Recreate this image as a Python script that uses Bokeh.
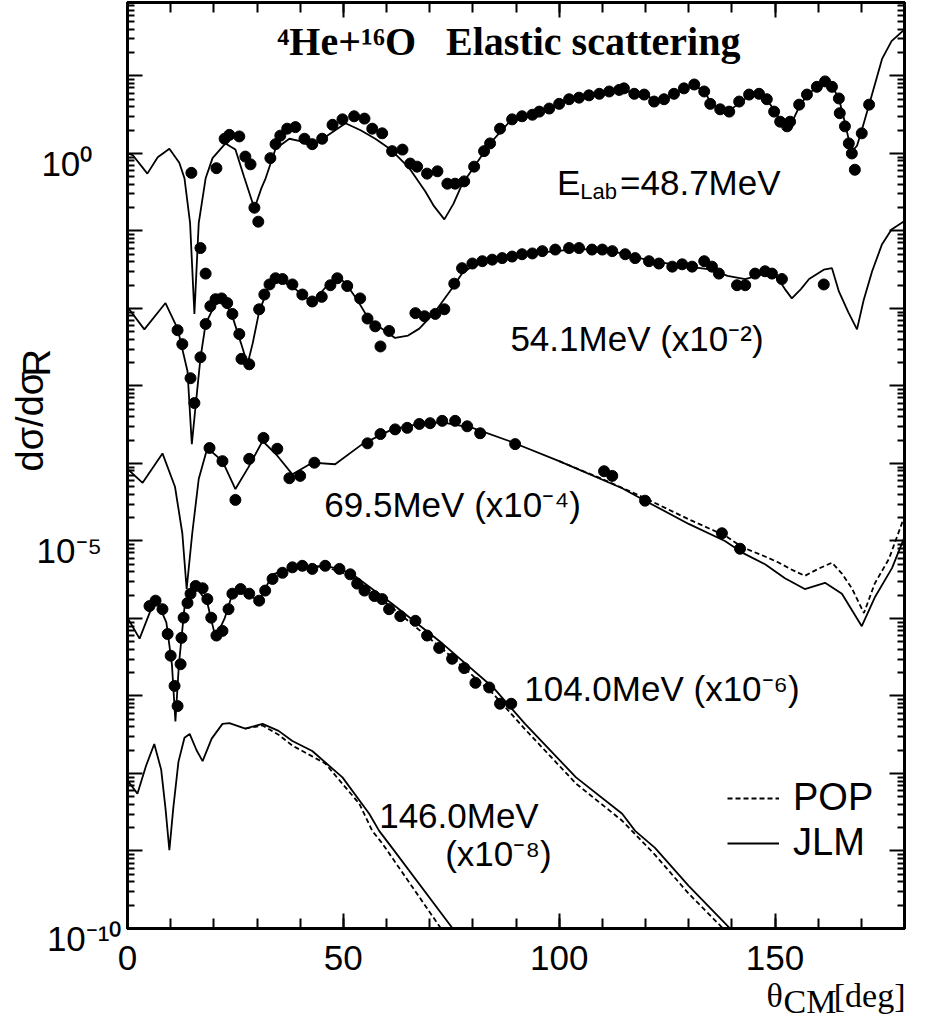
import numpy as np
from bokeh.plotting import figure
from bokeh.models import (LogAxis, LinearAxis, FixedTicker, Label, Legend, LegendItem,
                          Range1d, CustomJSTickFormatter, Title)
from bokeh.embed import file_html
from bokeh.resources import INLINE

# ---------------- data (theta_CM in deg, log10 of dsigma/dsigma_R, unscaled) -------------
energies = ["48.7", "54.1", "69.5", "104.0", "146.0"]
scale_exp = [0, -2, -4, -6, -8]

# 48.7 MeV
jlm1_th = [0, 1.2, 4.6, 7.0, 9.7, 12.0, 13.2, 14.5, 15.5, 16.5, 18.1, 19.7, 22.7, 25.0, 27.0, 29.4,
           31.0, 32.0, 34.3, 37.5, 40.0, 42.8, 46.0, 50.5, 54.0, 57.4, 61.0, 65.3, 69.0, 71.0, 73.4,
           75.5, 77.5, 80.3, 84.0, 89.0, 95.0, 100.0, 105.0, 110.0, 114.0, 117.0, 120.0, 122.0,
           124.3, 127.0, 129.0, 131.0, 133.6, 135.0, 137.3, 139.4, 141.7, 144.0, 146.3, 148.0,
           150.0, 151.2, 152.8, 154.0, 155.6, 157.4, 159.7, 161.6, 163.2, 164.8, 166.2, 167.2,
           168.2, 169.0, 170.1, 171.8, 174.8, 177.0, 180.0]
jlm1_lg = [0.00, -0.02, -0.26, -0.05, 0.06, -0.12, -0.32, -0.90, -2.07, -0.90, -0.32, -0.06, 0.13,
           0.05, -0.30, -0.71, -0.45, -0.32, 0.06, 0.19, 0.16, 0.09, 0.22, 0.39, 0.30, 0.19, 0.05,
           -0.19, -0.49, -0.68, -0.85, -0.65, -0.40, -0.17, 0.13, 0.44, 0.54, 0.64, 0.72, 0.79,
           0.82, 0.79, 0.76, 0.69, 0.70, 0.77, 0.84, 0.87, 0.82, 0.66, 0.57, 0.55, 0.65, 0.74,
           0.77, 0.70, 0.55, 0.43, 0.36, 0.41, 0.60, 0.75, 0.86, 0.92, 0.87, 0.71, 0.40, 0.15,
           0.05, 0.10, 0.30, 0.63, 1.22, 1.45, 1.60]
exp1_th = [14.8, 16.9, 18.1, 20.6, 22.5, 23.6, 25.9, 27.3, 28.5, 29.4, 30.3, 33.1, 34.3, 35.4, 37.0,
           38.9, 41.0, 42.8, 45.1, 47.5, 49.8, 52.5, 54.9, 56.7, 59.0, 61.3, 63.7, 65.5, 67.1, 69.4,
           71.8, 74.1, 75.9, 78.0, 80.3, 82.6, 84.0, 86.3, 89.1, 91.4, 93.8, 95.4, 97.7, 100.0,
           102.3, 104.6, 106.9, 109.3, 111.6, 113.9, 115.0, 117.4, 119.7, 122.0, 124.3, 126.6,
           128.9, 131.3, 133.6, 135.0, 137.3, 139.4, 141.7, 144.0, 146.3, 148.1, 149.8, 151.2,
           152.8, 153.5, 155.6, 157.4, 159.7, 161.6, 163.2, 164.8, 165.0, 166.2, 167.1, 167.8,
           168.5, 170.1, 171.8]
exp1_lg = [-0.25, -1.22, -1.55, -0.19, 0.19, 0.24, 0.22, -0.04, -0.14, -0.70, -0.88, -0.06, 0.12,
           0.23, 0.32, 0.34, 0.19, 0.12, 0.19, 0.37, 0.44, 0.48, 0.45, 0.32, 0.26, 0.03, 0.05,
           -0.13, -0.17, -0.26, -0.23, -0.39, -0.39, -0.36, -0.17, 0.03, 0.13, 0.32, 0.44, 0.48,
           0.50, 0.54, 0.58, 0.64, 0.70, 0.72, 0.75, 0.77, 0.80, 0.82, 0.84, 0.77, 0.76, 0.67,
           0.70, 0.77, 0.84, 0.89, 0.80, 0.64, 0.57, 0.54, 0.67, 0.76, 0.77, 0.70, 0.54, 0.41,
           0.35, 0.41, 0.63, 0.76, 0.86, 0.93, 0.86, 0.71, 0.52, 0.35, 0.13, 0.00, -0.21, 0.26,
           0.63]

# 54.1 MeV
jlm2_th = [0, 3.9, 8.8, 11.6, 13.9, 14.9, 15.7, 16.9, 18.1, 21.2, 24.0, 26.3, 27.8, 29.0, 30.5,
           32.5, 34.3, 36.5, 38.9, 41.5, 43.5, 46.0, 48.6, 50.5, 53.0, 55.5, 57.4, 62.0, 65.0,
           67.6, 71.3, 75.2, 77.5, 80.0, 84.5, 93.8, 104.6, 112.3, 120.8, 128.5, 135.4, 139.0,
           143.1, 147.7, 150.5, 152.3, 153.9, 156.0, 157.9, 161.3, 163.2, 164.8, 167.0, 169.0,
           170.5, 172.5, 174.8, 177.0, 180.0]
jlm2_lg = [0.02, -0.27, 0.07, -0.26, -0.81, -1.75, -1.30, -0.64, -0.20, 0.16, -0.05, -0.45, -0.72,
           -0.45, -0.04, 0.25, 0.35, 0.33, 0.25, 0.13, 0.12, 0.28, 0.41, 0.33, 0.13, -0.10, -0.20,
           -0.38, -0.35, -0.26, -0.04, 0.26, 0.45, 0.55, 0.62, 0.71, 0.77, 0.74, 0.62, 0.55, 0.50,
           0.42, 0.38, 0.45, 0.40, 0.25, 0.13, 0.25, 0.38, 0.50, 0.52, 0.22, -0.05, -0.27, 0.10,
           0.48, 0.83, 1.02, 1.13]
exp2_th = [11.6, 12.7, 14.6, 15.5, 16.9, 18.1, 19.2, 20.4, 21.8, 23.1, 24.3, 25.9, 26.4, 28.2, 30.5,
           31.7, 32.9, 34.3, 35.9, 38.2, 40.5, 42.8, 45.0, 47.0, 48.6, 50.9, 53.9, 55.6, 57.4, 58.6,
           60.6, 66.7, 68.8, 71.3, 73.4, 75.7, 77.5, 79.9, 82.2, 84.5, 86.8, 89.1, 91.4, 93.8, 96.1,
           99.1, 102.3, 104.6, 107.6, 110.0, 112.3, 115.3, 117.6, 120.8, 123.1, 126.2, 128.5,
           130.8, 133.6, 135.4, 137.0, 141.2, 143.1, 145.4, 147.7, 149.3, 151.6, 161.3]
exp2_lg = [-0.28, -0.46, -0.90, -1.22, -0.63, -0.20, 0.03, 0.12, 0.13, 0.07, -0.07, -0.33, -0.65,
           -0.72, -0.01, 0.18, 0.31, 0.39, 0.38, 0.31, 0.18, 0.09, 0.15, 0.30, 0.39, 0.29, 0.13,
           -0.13, -0.23, -0.49, -0.29, -0.06, -0.10, -0.07, -0.01, 0.32, 0.52, 0.58, 0.61, 0.63,
           0.65, 0.67, 0.70, 0.71, 0.74, 0.76, 0.78, 0.78, 0.76, 0.76, 0.74, 0.70, 0.65, 0.61,
           0.58, 0.54, 0.57, 0.54, 0.61, 0.54, 0.45, 0.30, 0.30, 0.45, 0.48, 0.45, 0.38, 0.31]

# 69.5 MeV
jlm3_th = [0, 3.5, 8.1, 11.0, 12.7, 13.7, 15.0, 16.5, 18.5, 22.0, 25.0, 28.0, 31.3, 34.7, 38.2,
           42.8, 48.1, 54.4, 61.3, 67.6, 72.9, 79.9, 88.4, 100.0, 114.6, 119.9, 130.0, 138.4,
           142.4, 147.7, 152.3, 156.9, 161.6, 165.5, 170.1, 173.1, 177.1, 180.0]
jlm3_lg = [-0.07, -0.25, 0.13, -0.30, -0.90, -1.62, -0.90, -0.20, 0.20, 0.03, -0.33, -0.05, 0.29,
           0.10, -0.14, 0.01, -0.01, 0.25, 0.44, 0.51, 0.53, 0.46, 0.29, 0.03, -0.32, -0.48,
           -0.78, -1.00, -1.15, -1.30, -1.48, -1.62, -1.54, -1.68, -2.10, -1.73, -1.35, -0.95]
pop3_th = [100.0, 110.0, 120.0, 130.0, 138.4, 142.4, 147.7, 150.9, 153.5, 156.9, 160.0, 163.2,
           165.5, 167.8, 170.6, 173.1, 176.4, 180.0]
pop3_lg = [0.03, -0.20, -0.45, -0.72, -0.93, -1.08, -1.20, -1.28, -1.36, -1.45, -1.36, -1.28,
           -1.42, -1.61, -1.93, -1.55, -1.23, -0.68]
exp3_th = [19.0, 22.0, 25.0, 28.2, 31.5, 34.7, 37.5, 40.0, 43.3, 55.6, 58.6, 62.0, 64.8, 67.6, 70.1,
           72.9, 75.9, 78.7, 81.7, 89.8, 110.4, 112.3, 119.9, 137.7, 141.9]
exp3_lg = [0.20, 0.03, -0.47, 0.06, 0.33, 0.19, -0.19, -0.16, 0.01, 0.26, 0.38, 0.44, 0.46, 0.51,
           0.52, 0.55, 0.55, 0.48, 0.39, 0.25, -0.10, -0.16, -0.48, -0.90, -1.10]

# 104.0 MeV
jlm4_th = [0, 2.8, 6.5, 9.0, 10.3, 11.1, 11.9, 13.2, 15.8, 18.5, 20.4, 22.5, 24.3, 25.9, 28.0, 30.5,
           33.6, 38.9, 45.8, 49.0, 52.1, 61.3, 73.1, 84.7, 92.1, 103.9, 114.6, 117.6, 122.2,
           130.0, 139.4]
jlm4_lg = [0.01, -0.26, 0.27, -0.05, -0.60, -1.33, -0.60, 0.14, 0.42, 0.20, -0.25, 0.00, 0.32,
           0.38, 0.30, 0.23, 0.57, 0.66, 0.68, 0.64, 0.57, 0.19, -0.33, -0.89, -1.36, -2.05,
           -2.52, -2.74, -2.96, -3.45, -3.99]
pop4_th = [40.0, 45.8, 52.1, 61.3, 73.1, 84.7, 92.1, 103.9, 114.6, 122.2, 130.0, 137.8]
pop4_lg = [0.66, 0.67, 0.54, 0.14, -0.40, -0.97, -1.43, -2.13, -2.61, -3.05, -3.55, -3.99]
exp4_th = [5.1, 6.5, 8.1, 9.3, 10.0, 10.9, 11.6, 12.3, 12.5, 13.0, 13.9, 14.6, 15.8, 17.4, 18.5,
           19.4, 20.6, 22.0, 23.4, 24.3, 26.2, 28.2, 30.5, 31.9, 33.6, 35.9, 38.2, 40.5, 42.8,
           45.8, 49.1, 51.6, 53.2, 54.9, 57.2, 59.0, 60.6, 63.2, 66.7, 69.4, 72.2, 75.2, 78.0,
           80.6, 83.8, 86.3, 88.9]
exp4_lg = [0.16, 0.23, 0.12, -0.20, -0.48, -0.87, -1.13, -0.59, -0.25, 0.01, 0.20, 0.32, 0.42,
           0.39, 0.25, 0.01, -0.22, -0.16, 0.12, 0.32, 0.38, 0.32, 0.23, 0.36, 0.51, 0.59, 0.66,
           0.68, 0.64, 0.68, 0.64, 0.57, 0.45, 0.36, 0.29, 0.25, 0.12, 0.03, -0.03, -0.22, -0.38,
           -0.52, -0.64, -0.83, -0.89, -1.10, -1.10]

# 146.0 MeV
jlm5_th = [0, 2.3, 4.3, 6.2, 7.8, 8.8, 9.7, 10.6, 11.8, 13.2, 14.4, 16.0, 17.4, 19.5, 22.0, 23.6,
           27.3, 31.3, 35.0, 38.2, 42.8, 49.8, 56.0, 58.3, 61.3, 75.2]
jlm5_lg = [-0.09, -0.26, 0.10, 0.38, 0.05, -0.45, -0.99, -0.45, 0.15, 0.46, 0.51, 0.30, 0.16, 0.45,
           0.64, 0.65, 0.58, 0.64, 0.55, 0.42, 0.29, -0.05, -0.52, -0.74, -0.96, -1.99]
pop5_th = [27.3, 31.3, 35.0, 38.2, 45.8, 53.7, 56.7, 59.0, 72.5]
pop5_lg = [0.58, 0.62, 0.50, 0.36, 0.13, -0.39, -0.74, -0.90, -1.99]

jlm_th = [jlm1_th, jlm2_th, jlm3_th, jlm4_th, jlm5_th]
jlm_lg = [jlm1_lg, jlm2_lg, jlm3_lg, jlm4_lg, jlm5_lg]
pop_th = [None, None, pop3_th, pop4_th, pop5_th]
pop_lg = [None, None, pop3_lg, pop4_lg, pop5_lg]
exp_th = [exp1_th, exp2_th, exp3_th, exp4_th, None]
exp_lg = [exp1_lg, exp2_lg, exp3_lg, exp4_lg, None]

y_tick_exps = list(range(-10, 3))
y_label_exps = [0, -5, -10]
y_label_texts = ["10\u2070", "10\u207b\u2075", "10\u207b\u00b9\u2070"]
x_major = [0, 50, 100, 150]
x_minor = list(range(10, 180, 10))

NB = "\u00a0"

# ---------------- figure -------------
p = figure(width=914, height=1022, x_range=Range1d(0, 180),
           y_range=Range1d(1e-10, 10 ** 1.948), y_axis_type="log",
           output_backend="svg", toolbar_location=None,
           min_border_left=127, min_border_right=10, min_border_top=2, min_border_bottom=93)
p.xgrid.visible = False
p.ygrid.visible = False
p.outline_line_color = "black"
p.outline_line_width = 3
p.background_fill_color = "white"
p.border_fill_color = "white"

yt = FixedTicker(ticks=[float("1e%d" % k) for k in y_tick_exps],
                 minor_ticks=[m * float("1e%d" % k) for k in y_tick_exps[:-1] for m in range(2, 10)])
xt = FixedTicker(ticks=x_major, minor_ticks=x_minor)


def blank():
    return CustomJSTickFormatter(code="return ''")


def style_axis(ax, major_len, minor_len):
    ax.axis_line_width = 3
    ax.axis_line_color = "black"
    ax.major_tick_in = major_len
    ax.major_tick_out = 0
    ax.minor_tick_in = minor_len
    ax.minor_tick_out = 0
    ax.major_tick_line_width = 2
    ax.minor_tick_line_width = 2
    ax.major_tick_line_color = "black"
    ax.minor_tick_line_color = "black"


# bottom
xa = p.xaxis[0]
xa.ticker = xt
style_axis(xa, 15, 10)
xa.major_label_text_font = "Liberation Sans"
xa.major_label_text_font_size = "35px"
xa.major_label_text_color = "black"
xa.major_label_standoff = 17

# left (labels padded so that they look left-aligned; leading empty line lowers them a bit)
pads = [3, 2, 0]
ya = p.yaxis[0]
ya.ticker = yt
style_axis(ya, 15, 7)
ya.formatter = CustomJSTickFormatter(
    args=dict(exps=y_label_exps, labels=["\n" + t + NB * n for t, n in zip(y_label_texts, pads)]),
    code="""
const e = Math.round(Math.log10(tick));
const i = exps.indexOf(e);
return i >= 0 ? labels[i] : "";
""")
ya.major_label_text_font = "Liberation Sans"
ya.major_label_text_font_size = "35px"
ya.major_label_text_color = "black"
ya.major_label_text_line_height = 0.5
ya.major_label_standoff = 6

# right and top
ra = LogAxis(ticker=yt, formatter=blank(), major_label_standoff=0)
style_axis(ra, 15, 7)
p.add_layout(ra, "right")
ta = LinearAxis(ticker=xt, formatter=blank(), major_label_standoff=0)
style_axis(ta, 15, 10)
p.add_layout(ta, "above")

# axis titles (side-panel titles, multi-line to emulate subscripts)
ytitle = Title(text="d\u03c3/d\u03c3\n" + NB * 9 + "R", align="left", offset=457,
               vertical_align="middle", standoff=-50, text_font="Liberation Sans",
               text_font_size="38px", text_font_style="normal", text_color="black",
               text_line_height=0.15)
p.add_layout(ytitle, "left")
xtitle = Title(text="\u03b8" + NB * 6 + "[deg]\n" + NB * 2 + "CM", align="right", offset=-1,
               vertical_align="bottom", standoff=5, text_font="Liberation Serif",
               text_font_size="34px", text_font_style="normal", text_color="black",
               text_line_height=0.15)
p.add_layout(xtitle, "below")

# curves
pop_r = None
jlm_r = None
for i in range(5):
    s = 10.0 ** scale_exp[i]
    r = p.line(jlm_th[i], [10.0 ** v * s for v in jlm_lg[i]], line_color="black", line_width=1.8)
    jlm_r = jlm_r or r
    if pop_th[i] is not None:
        rp = p.line(pop_th[i], [10.0 ** v * s for v in pop_lg[i]], line_color="black",
                    line_width=1.8, line_dash="5 3")
        pop_r = pop_r or rp
    if exp_th[i] is not None:
        p.scatter(exp_th[i], [10.0 ** v * s for v in exp_lg[i]], size=11, color="black")

legend = Legend(items=[LegendItem(label="POP", renderers=[pop_r]),
                       LegendItem(label="JLM", renderers=[jlm_r])],
                location=(600, 64), border_line_color=None, background_fill_alpha=0,
                label_text_font="Liberation Sans", label_text_font_size="38px",
                label_text_color="black", glyph_width=52, glyph_height=20, label_standoff=14,
                spacing=2, padding=0, margin=0)
p.add_layout(legend)


def lab(x, y, text, size, font="Liberation Sans", style="normal"):
    p.add_layout(Label(x=x, y=y, text=text, text_font=font, text_font_size=size,
                       text_font_style=style, text_color="black",
                       text_align="left", text_baseline="alphabetic"))


# title
lab(34.7, 10 ** 1.44, "\u2074He+\u00b9\u2076O" + NB * 3 + "Elastic scattering", "40px",
    font="Liberation Serif", style="bold")

# energy labels
lab(99.5, 10 ** -0.374, "E", "35px")
lab(104.9, 10 ** -0.49, "Lab", "22px")
lab(114.1, 10 ** -0.374, "=48.7MeV", "35px")
lab(88.7, 10 ** -2.384, "54.1MeV (x10\u207b\u00b2)", "35px")
lab(45.6, 10 ** -4.523, "69.5MeV (x10\u207b\u2074)", "35px")
lab(91.9, 10 ** -6.907, "104.0MeV (x10\u207b\u2076)", "35px")
lab(58.3, 10 ** -8.544, "146.0MeV", "35px")
lab(73.6, 10 ** -9.034, "(x10\u207b\u2078)", "35px")

open("out.html", "w").write(file_html(p, INLINE))
